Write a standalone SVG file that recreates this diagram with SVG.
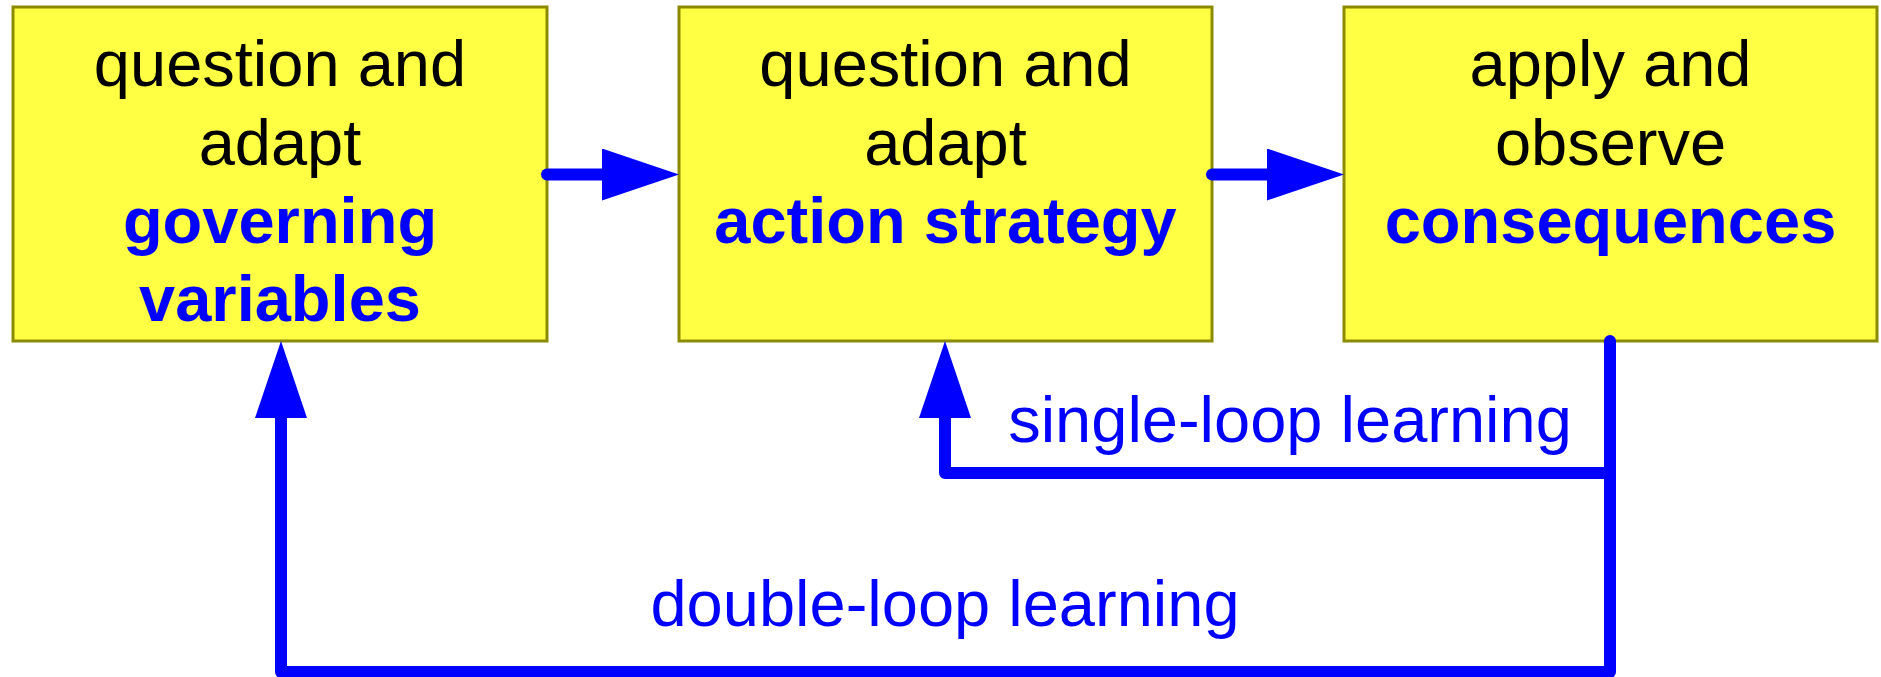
<svg xmlns="http://www.w3.org/2000/svg" width="1881" height="677" viewBox="0 0 1881 677">
<style>
.box{fill:#ffff44;stroke:#8b8b00;stroke-width:3}
.t{font-family:"Liberation Sans",Arial,sans-serif;font-size:65px;text-anchor:middle;fill:#000}
.b{font-weight:bold;fill:#0000ff}
.lbl{font-family:"Liberation Sans",Arial,sans-serif;font-size:65px;fill:#0000ff;text-anchor:middle}
.c{fill:none;stroke:#0000ff;stroke-width:12;stroke-linecap:round;stroke-linejoin:round}
</style>
<defs>
<marker id="ah" viewBox="0 -26 77 52" refX="0" refY="0" markerWidth="77" markerHeight="52" markerUnits="userSpaceOnUse" orient="auto">
<path d="M0,-26 L77,0 L0,26 Z" fill="#0000ff"/>
</marker>
</defs>
<rect width="1881" height="677" fill="#ffffff"/>
<g id="governing">
<rect class="box" x="13" y="7" width="534" height="334"/>
<text class="t" x="280" y="86">question and</text>
<text class="t" x="280" y="165">adapt</text>
<text class="t b" x="280" y="243">governing</text>
<text class="t b" x="280" y="321">variables</text>
</g>
<g id="action">
<rect class="box" x="679" y="7" width="533" height="334"/>
<text class="t" x="945.5" y="86">question and</text>
<text class="t" x="945.5" y="165">adapt</text>
<text class="t b" x="945.5" y="243">action strategy</text>
</g>
<g id="consequences">
<rect class="box" x="1344" y="7" width="533" height="334"/>
<text class="t" x="1610.5" y="86">apply and</text>
<text class="t" x="1610.5" y="165">observe</text>
<text class="t b" x="1610.5" y="243">consequences</text>
</g>
<g id="connectors">
<path class="c" d="M547,174.5 H602" marker-end="url(#ah)"/>
<path class="c" d="M1212,174.5 H1267" marker-end="url(#ah)"/>
<path class="c" d="M1610,341 V473 H945 V418" marker-end="url(#ah)"/>
<path class="c" d="M1610,473 V672 H281 V418" marker-end="url(#ah)"/>
<text class="lbl" x="1290" y="442">single-loop learning</text>
<text class="lbl" x="945" y="626">double-loop learning</text>
</g>
</svg>
